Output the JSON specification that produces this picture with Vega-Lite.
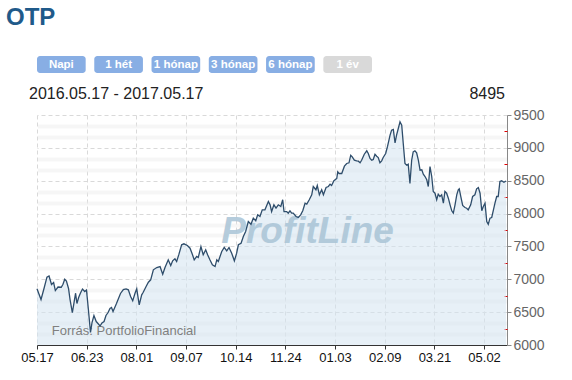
{
  "$schema": "https://vega.github.io/schema/vega-lite/v6.json",
  "padding": {"left": 6, "top": 6, "right": 5, "bottom": 5},
  "background": "white",
  "title": {"text": "OTP", "anchor": "start", "frame": "group", "fontSize": 24, "fontWeight": "bold", "color": "#1f5a8a", "font": "Liberation Sans", "dx": -31, "offset": 26},
  "config": {"view": {"stroke": null}, "font": "Liberation Sans"},
  "spacing": 13,
  "bounds": "flush",
  "vconcat": [
    {
      "width": 335,
      "height": 17,
      "data": {"values": [
        {"label": "Napi", "available": "yes"},
        {"label": "1 hét", "available": "yes"},
        {"label": "1 hónap", "available": "yes"},
        {"label": "3 hónap", "available": "yes"},
        {"label": "6 hónap", "available": "yes"},
        {"label": "1 év", "available": "no"}
      ]},
      "encoding": {
        "x": {"field": "label", "type": "nominal", "sort": null, "scale": {"paddingInner": 0.15, "paddingOuter": 0}, "axis": null}
      },
      "layer": [
        {"mark": {"type": "rect", "cornerRadius": 3},
         "encoding": {"color": {"field": "available", "type": "nominal", "scale": {"domain": ["yes", "no"], "range": ["#88aee4", "#d9d9d9"]}, "legend": null}}},
        {"mark": {"type": "text", "color": "white", "fontWeight": "bold", "fontSize": 11.5, "font": "Liberation Sans"},
         "encoding": {"text": {"field": "label"}}}
      ]
    },
    {
      "width": 470,
      "height": 16,
      "data": {"values": [
        {"label": "2016.05.17 - 2017.05.17", "side": "left"},
        {"label": "8495", "side": "right"}
      ]},
      "encoding": {
        "x": {"field": "side", "type": "nominal", "scale": {"type": "point", "padding": 0}, "axis": null},
        "text": {"field": "label"}
      },
      "layer": [
        {"transform": [{"filter": "datum.side == 'left'"}], "mark": {"type": "text", "align": "left", "fontSize": 16, "color": "#222", "dx": -8}},
        {"transform": [{"filter": "datum.side == 'right'"}], "mark": {"type": "text", "align": "right", "fontSize": 16, "color": "#222", "dx": -2}}
      ]
    },
    {
      "width": 470,
      "height": 230,
      "resolve": {"axis": {"y": "independent"}},
      "data": {"values": [
        {"day":0,"price":6855},{"day":2.1,"price":6692},{"day":3.7,"price":6864},{"day":5.2,"price":7032},{"day":6.3,"price":7050},{"day":7.6,"price":6920},{"day":8.7,"price":6951},{"day":9.6,"price":6829},{"day":11,"price":6882},{"day":12.7,"price":6879},{"day":13.6,"price":6925},{"day":14.5,"price":7001},{"day":15.4,"price":6974},{"day":16.5,"price":6860},{"day":17.3,"price":6692},{"day":18.5,"price":6494},{"day":19.4,"price":6647},{"day":20.2,"price":6788},{"day":20.9,"price":6631},{"day":21.8,"price":6723},{"day":22.7,"price":6788},{"day":23.8,"price":6852},{"day":25,"price":6814},{"day":25.9,"price":6837},{"day":26.9,"price":6540},{"day":28,"price":6190},{"day":28.8,"price":6342},{"day":29.8,"price":6449},{"day":31,"price":6357},{"day":31.9,"price":6327},{"day":33,"price":6289},{"day":34,"price":6335},{"day":35.1,"price":6357},{"day":36.1,"price":6449},{"day":37.2,"price":6494},{"day":38.2,"price":6555},{"day":39,"price":6570},{"day":39.8,"price":6510},
        {"day":41.6,"price":6631},{"day":43.7,"price":6784},{"day":45.2,"price":6844},{"day":46.6,"price":6855},{"day":47.8,"price":6840},{"day":49,"price":6738},{"day":50.1,"price":6672},{"day":51.3,"price":6788},{"day":52.2,"price":6855},{"day":53.5,"price":6612},{"day":54.8,"price":6764},{"day":55.6,"price":6803},{"day":57.1,"price":6890},{"day":58.3,"price":6956},{"day":59.5,"price":6992},{"day":60.9,"price":7144},{"day":62.7,"price":7179},{"day":64.4,"price":7194},{"day":65.8,"price":7077},{"day":67,"price":7179},{"day":68.7,"price":7296},{"day":70,"price":7210},{"day":71,"price":7281},{"day":72.2,"price":7312},{"day":73.1,"price":7271},{"day":74.3,"price":7382},{"day":75.7,"price":7525},{"day":76.9,"price":7540},{"day":78.7,"price":7514},{"day":80.1,"price":7473},
        {"day":81.3,"price":7382},{"day":82.3,"price":7296},{"day":83.6,"price":7347},{"day":84.4,"price":7331},{"day":85.8,"price":7499},{"day":87,"price":7373},{"day":88.3,"price":7449},{"day":89.3,"price":7373},{"day":90.5,"price":7296},{"day":91.8,"price":7220},{"day":93.2,"price":7194},{"day":94.1,"price":7296},{"day":94.9,"price":7271},{"day":96.7,"price":7423},{"day":98,"price":7484},{"day":99.3,"price":7433},{"day":100.5,"price":7484},{"day":101.9,"price":7397},{"day":103.3,"price":7281},{"day":104.5,"price":7397},{"day":105.4,"price":7525},{"day":106.8,"price":7549},{"day":108,"price":7651},{"day":109.2,"price":7727},{"day":110.6,"price":7879},{"day":112,"price":7838},{"day":113.2,"price":7930},{"day":114.5,"price":7890},{"day":115.5,"price":7981},{"day":116.7,"price":7955},
        {"day":117.9,"price":8057},{"day":119.3,"price":8057},{"day":121.1,"price":8184},{"day":122,"price":8133},{"day":122.8,"price":8031},{"day":124,"price":8133},{"day":125.1,"price":8082},{"day":126.3,"price":8133},{"day":127.6,"price":8108},{"day":128.6,"price":8210},{"day":129.3,"price":8031},{"day":130.7,"price":8031},{"day":131.5,"price":8006},{"day":132.4,"price":8042},{"day":133.3,"price":8006},{"day":134.1,"price":8006},{"day":135.6,"price":7955},{"day":136.8,"price":7940},{"day":138,"price":7981},{"day":139.1,"price":8042},{"day":140.3,"price":8158},{"day":141.2,"price":8143},{"day":142.5,"price":8210},{"day":143.8,"price":8286},{"day":144.6,"price":8412},{"day":146,"price":8362},{"day":146.7,"price":8427},{"day":147.8,"price":8286},{"day":149,"price":8362},{"day":149.9,"price":8286},{"day":151.3,"price":8397},{"day":152.5,"price":8412},{"day":153.4,"price":8447},{"day":154.2,"price":8427},{"day":155.4,"price":8499},
        {"day":156.9,"price":8534},{"day":157.4,"price":8636},{"day":158.1,"price":8610},{"day":159.5,"price":8610},{"day":160.9,"price":8721},{"day":162.1,"price":8762},{"day":163.3,"price":8773},{"day":164.2,"price":8888},{"day":165,"price":8864},{"day":166.1,"price":8812},{"day":167.3,"price":8803},{"day":168.2,"price":8797},{"day":169.1,"price":8773},{"day":169.9,"price":8812},{"day":171.3,"price":8903},{"day":172.6,"price":8955},{"day":173.4,"price":8914},{"day":174.3,"price":8838},{"day":175.2,"price":8812},{"day":176,"price":8823},{"day":176.9,"price":8903},{"day":177.8,"price":8873},{"day":178.6,"price":8853},{"day":179.5,"price":8773},{"day":180.4,"price":8803},{"day":181.2,"price":8853},{"day":182.5,"price":8914},{"day":183.5,"price":9025},{"day":184.8,"price":9193},{"day":185.6,"price":9269},{"day":186.5,"price":9279},{"day":187.4,"price":9077},{"day":188.2,"price":9193},{"day":189.1,"price":9295},{"day":190,"price":9397},{"day":190.9,"price":9345},{"day":191.7,"price":9066},{"day":192.6,"price":8762},{"day":193.5,"price":8736},{"day":194.3,"price":8751},{"day":195.2,"price":8458},{"day":196.1,"price":8812},{"day":196.9,"price":8940},{"day":197.8,"price":8955},{"day":198.7,"price":8925},{"day":199.6,"price":8812},{"day":200.5,"price":8660},
        {"day":201.4,"price":8666},{"day":202.2,"price":8599},{"day":203.1,"price":8564},{"day":204,"price":8514},{"day":204.8,"price":8412},{"day":205.7,"price":8716},{"day":206.6,"price":8564},{"day":207.4,"price":8336},{"day":208.3,"price":8310},{"day":209.2,"price":8210},{"day":210,"price":8295},{"day":210.9,"price":8260},{"day":211.8,"price":8286},{"day":212.7,"price":8158},{"day":213.5,"price":8336},{"day":214.4,"price":8310},{"day":215.3,"price":8234},{"day":216.2,"price":8133},{"day":217.1,"price":8042},{"day":217.9,"price":8006},{"day":218.8,"price":8133},{"day":219.7,"price":8286},{"day":220.5,"price":8362},{"day":221,"price":8377},{"day":221.8,"price":8260},{"day":222.8,"price":8123},{"day":224,"price":8092},{"day":224.9,"price":8082},{"day":225.7,"price":8057},{"day":227,"price":8133},{"day":228,"price":8260},{"day":229.2,"price":8286},{"day":230.1,"price":8377},{"day":231,"price":8397},{"day":231.9,"price":8310},{"day":232.8,"price":8042},{"day":233.6,"price":8108},{"day":234.5,"price":8158},{"day":235.4,"price":7879},{"day":236.2,"price":7838},{"day":237.1,"price":7930},{"day":238,"price":7940},{"day":238.9,"price":8057},{"day":239.7,"price":8158},{"day":240.6,"price":8260},{"day":241.4,"price":8260},{"day":242.3,"price":8488},{"day":243.2,"price":8499},{"day":244.4,"price":8477},{"day":245.5,"price":8495}
      ]},
      "layer": [
        {
          "mark": {"type": "area", "color": "#d4e3f1", "opacity": 0.55, "clip": true},
          "encoding": {
            "x": {"field": "day", "type": "quantitative", "scale": {"domain": [0, 246], "nice": false, "zero": false},
              "axis": {"title": null, "values": [0, 26, 52, 78, 104, 130, 156, 182, 208, 234],
                "labelExpr": "['05.17','06.23','08.01','09.07','10.14','11.24','01.03','02.09','03.21','05.02'][round(datum.value/26)]",
                "grid": true, "gridColor": "#d9d9d9", "gridDash": [4, 3],
                "domainColor": "#333", "tickColor": "#333", "tickSize": 4,
                "labelFontSize": 13, "labelColor": "#111", "labelPadding": 2, "labelFlush": false, "labelOverlap": false}},
            "y": {"field": "price", "type": "quantitative", "scale": {"domain": [6000, 9500], "zero": false, "nice": false},
              "axis": {"title": null, "orient": "right", "format": "d",
                "values": [6000, 6500, 7000, 7500, 8000, 8500, 9000, 9500],
                "labelFontSize": 14, "labelColor": "#666", "labelPadding": 2, "labelFlush": false, "labelOverlap": false,
                "domainColor": "#888", "tickColor": "#888", "tickSize": 4,
                "grid": true, "gridColor": "#d9d9d9", "gridDash": [4, 3]}}
          }
        },
        {
          "data": {"values": [{"label": "ProfitLine"}]},
          "mark": {"type": "text", "font": "Liberation Sans", "fontSize": 37, "fontWeight": "bold", "fontStyle": "italic", "color": "#a9c4d6", "opacity": 0.85, "align": "center", "baseline": "middle"},
          "encoding": {
            "x": {"datum": 141.6, "type": "quantitative"},
            "y": {"datum": 7727, "type": "quantitative", "axis": null},
            "text": {"field": "label"}
          }
        },
        {
          "data": {"values": [{"label": "Forrás: PortfolioFinancial"}]},
          "mark": {"type": "text", "font": "Liberation Sans", "fontSize": 13, "color": "#808080", "align": "left", "baseline": "alphabetic"},
          "encoding": {
            "x": {"datum": 7.7, "type": "quantitative"},
            "y": {"datum": 6145, "type": "quantitative", "axis": null},
            "text": {"field": "label"}
          }
        },
        {
          "mark": {"type": "line", "color": "#2e4d6b", "strokeWidth": 1.3},
          "encoding": {
            "x": {"field": "day", "type": "quantitative"},
            "y": {"field": "price", "type": "quantitative",
              "axis": {"title": null, "orient": "right", "labels": false, "domain": false,
                "values": [6166.67, 6250, 6333.33, 6666.67, 6750, 6833.33, 7166.67, 7250, 7333.33, 7666.67, 7750, 7833.33, 8166.67, 8250, 8333.33, 8666.67, 8750, 8833.33, 9166.67, 9250, 9333.33],
                "tickColor": "#e00000", "tickSize": -3,
                "tickOpacity": {"condition": {"test": "datum.value % 500 == 250", "value": 1}, "value": 0},
                "grid": true, "gridColor": "#ededed", "gridDash": [1, 1], "gridWidth": 4,
                "gridOpacity": {"condition": {"test": "datum.value % 500 == 250", "value": 0}, "value": 1}}}
          }
        }
      ]
    }
  ]
}
